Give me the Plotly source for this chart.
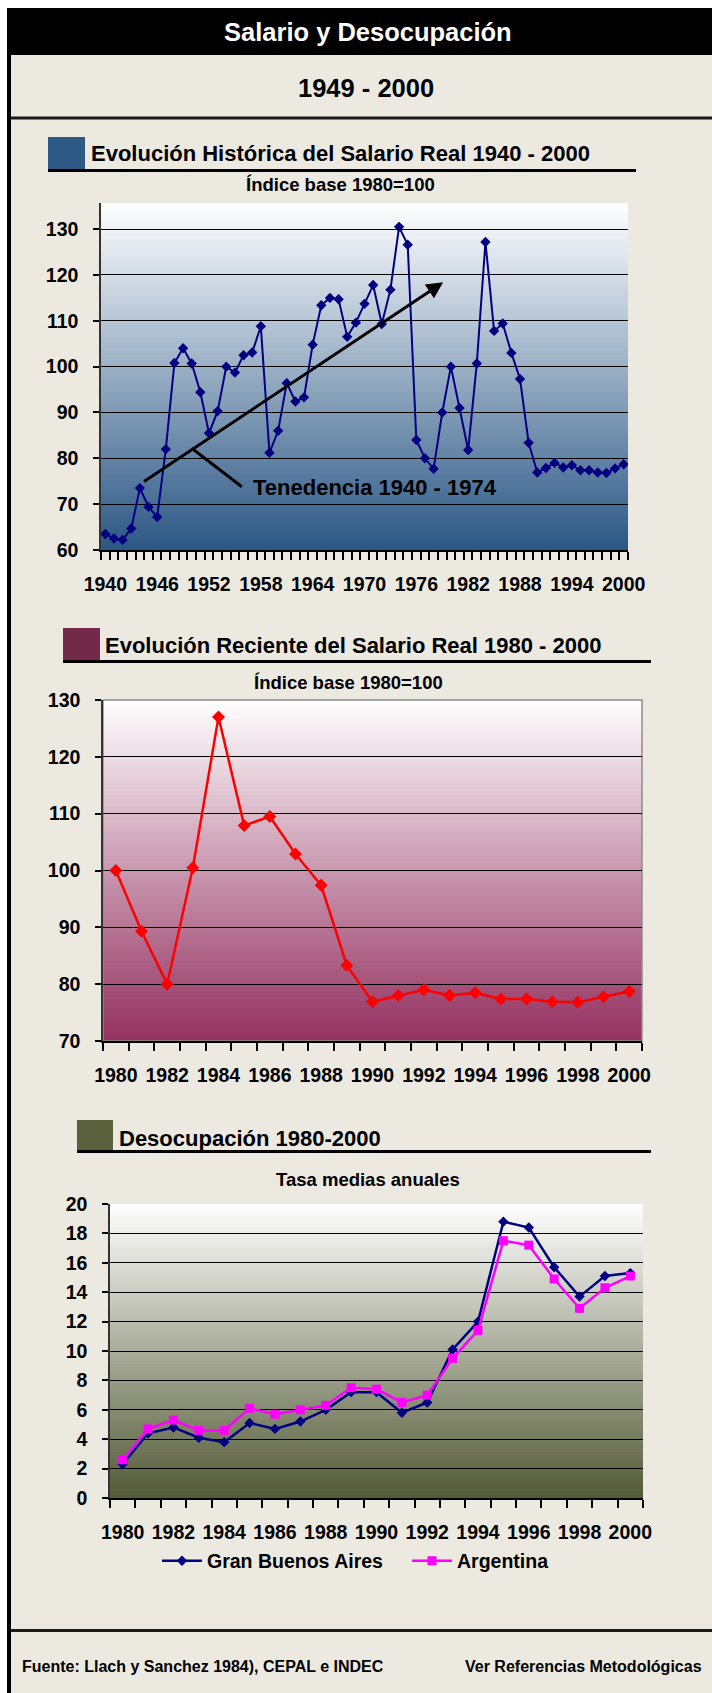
import plotly.graph_objects as go

W, H = 712, 1693

# ---------------- data ----------------
years_hist = list(range(1940, 2001))
salario_hist = [63.5, 62.5, 62.2, 64.7, 73.5, 69.4, 67.2, 82.0, 100.8, 104.0,
                100.7, 94.4, 85.5, 90.3, 100.0, 98.7, 102.5, 103.1, 108.8, 81.2,
                86.0, 96.4, 92.4, 93.3, 104.8, 113.4, 115.0, 114.7, 106.5, 109.6,
                113.7, 117.8, 109.3, 116.8, 130.5, 126.6, 84.0, 80.0, 77.7, 90.0,
                100.0, 91.0, 81.8, 100.7, 127.2, 107.8, 109.4, 103.0, 97.3, 83.4,
                76.9, 77.9, 79.0, 78.0, 78.5, 77.4, 77.4, 76.9, 76.8, 77.8, 78.7]
hist_ticks = list(range(1940, 2001, 6))

years_rec = list(range(1980, 2001))
salario_rec = [100.0, 89.3, 80.0, 100.5, 127.0, 107.9, 109.5, 102.9, 97.4, 83.3,
               76.9, 78.0, 79.0, 78.0, 78.5, 77.4, 77.4, 76.9, 76.8, 77.8, 78.7]
rec_ticks = list(range(1980, 2001, 2))

desoc_gba = [2.3, 4.4, 4.8, 4.1, 3.8, 5.1, 4.7, 5.2, 6.0, 7.2, 7.2, 5.8, 6.5,
             10.1, 12.0, 18.8, 18.4, 15.7, 13.7, 15.1, 15.3]
desoc_arg = [2.6, 4.7, 5.3, 4.6, 4.6, 6.1, 5.7, 6.0, 6.3, 7.5, 7.4, 6.5, 7.0,
             9.5, 11.4, 17.5, 17.2, 14.9, 12.9, 14.3, 15.1]

# ---------------- helpers ----------------
FONT = "Liberation Sans, Arial, sans-serif"
BEIGE = "#ece9e1"


def px(x):
    return x / W


def py(y):
    return 1 - y / H


def hexrgb(h):
    h = h.lstrip("#")
    return tuple(int(h[i:i + 2], 16) for i in (0, 2, 4))


def lerp(c1, c2, t):
    a, b = hexrgb(c1), hexrgb(c2)
    return "rgb(%d,%d,%d)" % tuple(round(a[i] + (b[i] - a[i]) * t) for i in range(3))


def gradient(xa, ya, top, bottom, n=90):
    out = []
    for i in range(n):
        t = (i + 0.5) / n
        y1 = 1 - i / n
        y0 = max(0, 1 - (i + 1) / n - 0.003)
        out.append(dict(type="rect", xref=f"{xa} domain", yref=f"{ya} domain",
                        x0=0, x1=1, y0=y0, y1=y1, fillcolor=lerp(top, bottom, t),
                        line=dict(width=0), layer="below"))
    return out


def prect(x0, y0, x1, y1, color):
    return dict(type="rect", xref="paper", yref="paper", x0=px(x0), x1=px(x1),
                y0=py(y1), y1=py(y0), fillcolor=color, line=dict(width=0), layer="below")


def ptext(x, y, text, size, anchor="center", color="black"):
    return dict(x=px(x), y=py(y), xref="paper", yref="paper", text=text,
                showarrow=False, xanchor=anchor, yanchor="middle",
                font=dict(family=FONT, size=size, color=color))


fig = go.Figure()

# ---------------- traces ----------------
fig.add_trace(go.Scatter(x=years_hist, y=salario_hist, mode="lines+markers",
                         line=dict(color="#000080", width=2),
                         marker=dict(symbol="diamond", size=8, color="#000080"),
                         xaxis="x", yaxis="y", showlegend=False))
fig.add_trace(go.Scatter(x=years_rec, y=salario_rec, mode="lines+markers",
                         line=dict(color="#ff0000", width=2.5),
                         marker=dict(symbol="diamond", size=10, color="#ff0000"),
                         xaxis="x2", yaxis="y2", showlegend=False))
fig.add_trace(go.Scatter(x=years_rec, y=desoc_gba, mode="lines+markers",
                         name="Gran Buenos Aires",
                         line=dict(color="#000080", width=2.5),
                         marker=dict(symbol="diamond", size=8, color="#000080"),
                         xaxis="x3", yaxis="y3"))
fig.add_trace(go.Scatter(x=years_rec, y=desoc_arg, mode="lines+markers",
                         name="Argentina",
                         line=dict(color="#ff00ff", width=2.5),
                         marker=dict(symbol="square", size=9, color="#ff00ff"),
                         xaxis="x3", yaxis="y3"))

tickfont = dict(family=FONT, size=19.5, color="black", weight="bold")


def xaxis_cfg(domain, lo, hi, tickvals, anchor):
    return dict(domain=domain, anchor=anchor, range=[lo - 0.5, hi + 0.5],
                tickmode="array", tickvals=tickvals, ticks="", showgrid=False,
                zeroline=False, showline=True, linecolor="black", linewidth=1.5,
                tickfont=tickfont, ticklabelstandoff=16, fixedrange=True,
                automargin=False,
                minor=dict(tickmode="linear", tick0=lo - 0.5, dtick=1,
                           ticks="outside", ticklen=8, tickwidth=1.5,
                           tickcolor="black", showgrid=False))


def yaxis_cfg(domain, lo, hi, dtick, anchor, gridmax):
    return dict(domain=domain, anchor=anchor, range=[lo, hi],
                tickmode="array", tickvals=list(range(lo, gridmax + 1, dtick)),
                ticks="outside", ticklen=6, tickwidth=1.5, tickcolor="black",
                showgrid=True, gridcolor="black", gridwidth=1, zeroline=False,
                showline=True, linecolor="#333333", linewidth=1.5,
                tickfont=tickfont, ticklabelstandoff=11, fixedrange=True,
                automargin=False)


fig.update_layout(
    xaxis=xaxis_cfg([px(101), px(628)], 1940, 2000, hist_ticks, "y"),
    yaxis=yaxis_cfg([py(550), py(203)], 60, 135.7, 10, "x", 130),
    xaxis2=xaxis_cfg([px(103), px(642)], 1980, 2000, rec_ticks, "y2"),
    yaxis2=yaxis_cfg([py(1041), py(700)], 70, 130, 10, "x2", 130),
    xaxis3=xaxis_cfg([px(110), px(643)], 1980, 2000, rec_ticks, "y3"),
    yaxis3=yaxis_cfg([py(1498), py(1204)], 0, 20, 2, "x3", 20),
)

# ---------------- shapes ----------------
shapes = []
# page frame
shapes.append(prect(7, 8, W, H, BEIGE))
shapes.append(prect(7, 8, W, 55, "black"))
shapes.append(prect(7, 116.5, W, 119.5, "#1a1a1a"))
shapes.append(prect(7, 1629, W, 1632, "#1a1a1a"))
shapes.append(prect(7, 8, 11, H, "black"))

# chart headers (icon + underline)
shapes.append(prect(48, 137, 85, 170, "#2e5984"))
shapes.append(prect(48, 169, 636, 172, "black"))
shapes.append(prect(63, 628, 100, 661, "#722a48"))
shapes.append(prect(63, 660, 651, 663, "black"))
shapes.append(prect(77, 1120, 113, 1152, "#5a603c"))
shapes.append(prect(77, 1150, 651, 1153, "black"))

# gradients
shapes += gradient("x", "y", "#ffffff", "#2b5785")
shapes += gradient("x2", "y2", "#ffffff", "#93305f")
shapes += gradient("x3", "y3", "#ffffff", "#535a36")

# chart 2 border
shapes.append(dict(type="rect", xref="x2 domain", yref="y2 domain", x0=0, x1=1,
                   y0=0, y1=1, line=dict(color="#8c8c8c", width=1.5),
                   fillcolor="rgba(0,0,0,0)", layer="below"))

# trend pointer line (chart 1)
shapes.append(dict(type="line", xref="x", yref="y", x0=1950, y0=82.2,
                   x1=1955.8, y1=73.8, line=dict(color="black", width=3),
                   layer="above"))

# ---------------- annotations ----------------
ann = []
ann.append(ptext(368, 32, "<b>Salario y Desocupación</b>", 25.5, color="white"))
ann.append(ptext(366, 88, "<b>1949 - 2000</b>", 25.5))

ann.append(ptext(89, 153, "<b>Evolución Histórica del Salario Real 1940 - 2000</b>", 22, anchor="left"))
ann.append(ptext(340, 184, "<b>Índice base 1980=100</b>", 18.5))
ann.append(ptext(103, 646, "<b>Evolución Reciente del Salario Real 1980 - 2000</b>", 22, anchor="left"))
ann.append(ptext(348, 682, "<b>Índice base 1980=100</b>", 18.5))
ann.append(ptext(117, 1138, "<b>Desocupación 1980-2000</b>", 22, anchor="left"))
ann.append(ptext(368, 1179, "<b>Tasa medias anuales</b>", 18.5))

ann.append(ptext(20, 1666, "<b>Fuente: Llach y Sanchez 1984), CEPAL e INDEC</b>", 16, anchor="left"))
ann.append(ptext(704, 1666, "<b>Ver Referencias Metodológicas</b>", 16, anchor="right"))

# trend arrow + label
ann.append(dict(x=1979.1, y=118.4, ax=1944.3, ay=74.7, xref="x", yref="y",
                axref="x", ayref="y", text="", showarrow=True, arrowhead=2,
                arrowsize=1.1, arrowwidth=3, arrowcolor="black"))
ann.append(dict(x=1956.9, y=73.6, xref="x", yref="y", text="<b>Tenedencia 1940 - 1974</b>",
                showarrow=False, xanchor="left", yanchor="middle",
                font=dict(family=FONT, size=22, color="black")))

fig.update_layout(
    width=W, height=H, autosize=False,
    margin=dict(l=0, r=0, t=0, b=0, pad=0, autoexpand=False),
    paper_bgcolor="white", plot_bgcolor="rgba(0,0,0,0)",
    shapes=shapes, annotations=ann,
    font=dict(family=FONT, color="black"),
    showlegend=True,
    legend=dict(orientation="h", x=px(157), y=py(1561), xanchor="left",
                yanchor="middle", bgcolor="rgba(0,0,0,0)",
                font=dict(family=FONT, size=19.5, color="black", weight="bold"),
                itemwidth=40, entrywidth=195, entrywidthmode="pixels",
                tracegroupgap=0),
)

fig.write_html("out.html", config={"displayModeBar": False})
